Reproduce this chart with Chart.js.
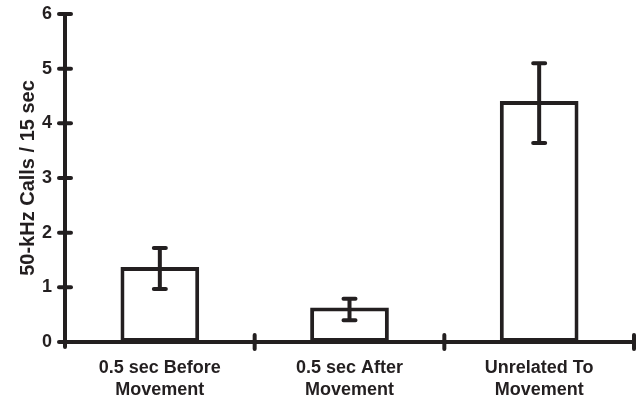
<!DOCTYPE html>
<html>
<head>
<meta charset="utf-8">
<title>50-kHz Calls</title>
<script src="https://cdn.jsdelivr.net/npm/chart.js@4.4.1/dist/chart.umd.min.js"></script>
<style>
    html, body { margin: 0; padding: 0; background: #fff; }
    #wrap { width: 639px; height: 400px; }
</style>
</head>
<body>
<div id="wrap"><canvas id="calls"></canvas></div>
<script>
var categories = [['0.5 sec Before', 'Movement'], ['0.5 sec After', 'Movement'], ['Unrelated To', 'Movement']];
var means = [1.37, 0.63, 4.41];
var errLow = [0.97, 0.40, 3.64];
var errHigh = [1.72, 0.79, 5.10];
var yTicks = [0, 1, 2, 3, 4, 5, 6];

var ink = '#231f20';

// axes, tick marks and error bars drawn by hand so the caps come out round
var axisPlugin = {
    id: 'axisPlugin',
    afterDatasetsDraw: function(chart) {
        var ctx = chart.ctx;
        var x = chart.scales.x, y = chart.scales.y;
        var x0 = x.left, yBase = y.getPixelForValue(0);
        ctx.save();
        ctx.strokeStyle = ink;
        ctx.lineCap = 'round';
        ctx.lineWidth = 4;

        ctx.beginPath();
        ctx.moveTo(x0, y.getPixelForValue(6));
        ctx.lineTo(x0, yBase + 5);
        ctx.moveTo(x0, yBase);
        ctx.lineTo(x.right, yBase);
        ctx.stroke();

        yTicks.forEach(function(v) {
            var py = y.getPixelForValue(v);
            ctx.beginPath();
            ctx.moveTo(x0 - 6, py);
            ctx.lineTo(x0 + 6, py);
            ctx.stroke();
        });

        for (var i = 1; i <= categories.length; i++) {
            var px = x.getPixelForValue(i - 0.5);
            ctx.beginPath();
            ctx.moveTo(px, yBase - 7);
            ctx.lineTo(px, yBase + 7);
            ctx.stroke();
        }

        var meta = chart.getDatasetMeta(0);
        meta.data.forEach(function(bar, i) {
            var top = y.getPixelForValue(errHigh[i]);
            var bot = y.getPixelForValue(errLow[i]);
            ctx.beginPath();
            ctx.moveTo(bar.x, top);
            ctx.lineTo(bar.x, bot);
            ctx.moveTo(bar.x - 6, top);
            ctx.lineTo(bar.x + 6, top);
            ctx.moveTo(bar.x - 6, bot);
            ctx.lineTo(bar.x + 6, bot);
            ctx.stroke();
        });
        ctx.restore();
    }
};

Chart.defaults.font.family = '"Liberation Sans", Arial, sans-serif';
Chart.defaults.font.weight = 'bold';
Chart.defaults.color = ink;

new Chart(document.getElementById('calls'), {
    type: 'bar',
    data: {
        labels: categories,
        datasets: [{
            data: means,
            backgroundColor: '#fff',
            borderColor: ink,
            borderWidth: 4,
            borderSkipped: false,
            categoryPercentage: 1,
            barPercentage: 0.415
        }]
    },
    options: {
        responsive: true,
        maintainAspectRatio: false,
        animation: false,
        layout: { padding: { top: 14, right: 5, left: 0, bottom: 0 } },
        plugins: { legend: { display: false }, tooltip: { enabled: false } },
        scales: {
            x: {
                grid: { display: false, drawTicks: false },
                border: { display: false },
                ticks: { padding: 16, font: { size: 18, lineHeight: 1.17 }, maxRotation: 0 },
                afterFit: function(scale) {
                    scale.height = 58;
                    scale.paddingLeft = 0;
                    scale.paddingRight = 0;
                }
            },
            y: {
                min: 0,
                max: 6,
                grid: { display: false, drawTicks: false },
                border: { display: false },
                ticks: { stepSize: 1, padding: 13, font: { size: 18 } },
                title: {
                    display: true,
                    text: '50-kHz Calls / 15 sec',
                    font: { size: 20, weight: 'bold' },
                    padding: { top: 16, bottom: 0 }
                },
                afterFit: function(scale) {
                    scale.width = 65;
                    scale.paddingTop = 0;
                    scale.paddingBottom = 0;
                }
            }
        }
    },
    plugins: [axisPlugin]
});
</script>
</body>
</html>
